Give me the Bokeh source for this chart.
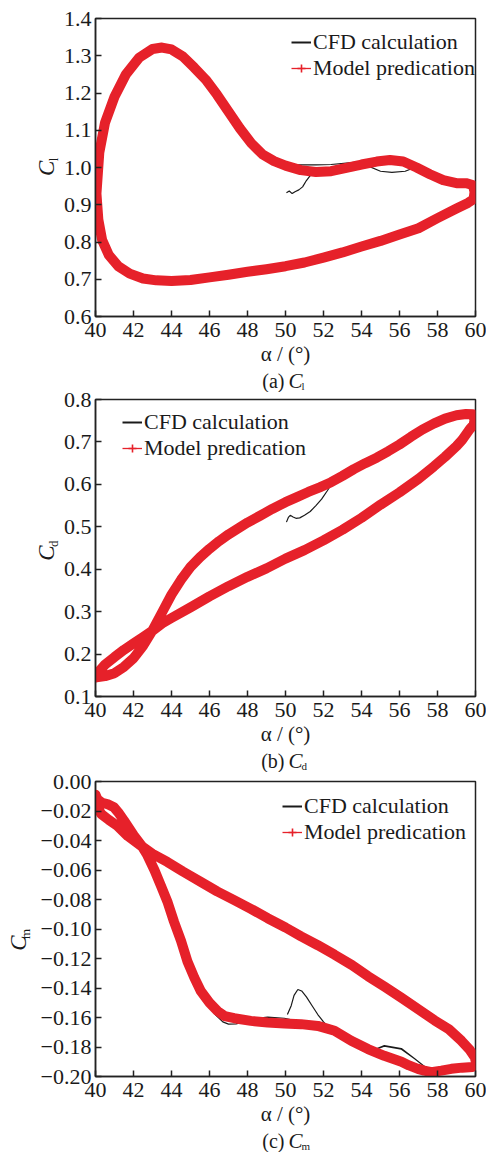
import math
from bokeh.plotting import figure
from bokeh.layouts import column, row
from bokeh.models import Label, Legend, LegendItem, ColumnDataSource, FixedTicker, Range1d
from bokeh.embed import file_html
from bokeh.resources import INLINE

# ---------------- data ----------------
alpha_ticks = [40, 42, 44, 46, 48, 50, 52, 54, 56, 58, 60]

cl_ticks = [0.6, 0.7, 0.8, 0.9, 1.0, 1.1, 1.2, 1.3, 1.4]
cl_tick_labels = ["0.6", "0.7", "0.8", "0.9", "1.0", "1.1", "1.2", "1.3", "1.4"]
cd_ticks = [0.1, 0.2, 0.3, 0.4, 0.5, 0.6, 0.7, 0.8]
cd_tick_labels = ["0.1", "0.2", "0.3", "0.4", "0.5", "0.6", "0.7", "0.8"]
cm_ticks = [-0.2, -0.18, -0.16, -0.14, -0.12, -0.1, -0.08, -0.06, -0.04, -0.02, 0.0]
cm_tick_labels = ["\u22120.20", "\u22120.18", "\u22120.16", "\u22120.14", "\u22120.12", "\u22120.10",
                  "\u22120.08", "\u22120.06", "\u22120.04", "\u22120.02", "0.00"]

# (a) lift coefficient, model prediction loop
cl_model_alpha = [40.05, 40.2, 40.5, 41.0, 41.6, 42.3, 43.0, 43.5, 44.0, 44.6, 45.2, 45.8, 46.4, 47.0,
                  47.6, 48.2, 48.8, 49.4, 50.0, 50.8, 51.6, 52.4, 53.2, 54.0, 54.8, 55.5, 56.2, 56.9,
                  57.6, 58.3, 59.0, 59.5, 59.85, 59.95, 59.9, 59.6, 59.0, 58.0, 57.0, 56.0, 55.0, 54.0,
                  53.0, 52.0, 51.0, 50.0, 49.0, 48.0, 47.0, 46.0, 45.0, 44.0, 43.2, 42.5, 41.8, 41.2,
                  40.7, 40.35, 40.15, 40.05]
cl_model = [0.93, 1.04, 1.12, 1.19, 1.25, 1.295, 1.318, 1.322, 1.317, 1.298, 1.268, 1.236, 1.195, 1.15,
            1.105, 1.065, 1.035, 1.017, 1.005, 0.993, 0.988, 0.99, 0.999, 1.008, 1.016, 1.02, 1.016, 1.0,
            0.982, 0.966, 0.958, 0.958, 0.953, 0.935, 0.915, 0.905, 0.89, 0.864, 0.837, 0.82, 0.803, 0.788,
            0.772, 0.758, 0.745, 0.735, 0.727, 0.72, 0.712, 0.705, 0.698, 0.695, 0.697, 0.702, 0.715, 0.735,
            0.765, 0.805, 0.86, 0.93]
# (a) CFD: start transient, first upper pass, lower branch, second upper pass
cl_cfd_start_alpha = [50.05, 50.2, 50.35, 50.5, 50.7, 50.9, 51.1, 51.3, 51.5]
cl_cfd_start = [0.932, 0.937, 0.93, 0.935, 0.94, 0.948, 0.965, 0.978, 0.985]
cl_cfd_up1_alpha = [52.0, 52.8, 53.6, 54.3, 55.0, 55.6, 56.3, 56.8, 57.5, 58.3, 59.0, 59.6, 59.95, 59.9]
cl_cfd_up1 = [0.99, 0.996, 1.003, 1.005, 0.99, 0.987, 0.99, 1.0, 0.985, 0.97, 0.962, 0.96, 0.94, 0.915]
cl_cfd_low_alpha = [59.6, 59.0, 58.0, 57.0, 56.0, 55.0, 54.0, 53.0, 52.0, 51.0, 50.0, 49.0, 48.0, 47.0,
                    46.0, 45.0, 44.0, 43.2, 42.5, 41.8, 41.2, 40.7, 40.35, 40.15, 40.05]
cl_cfd_low = [0.905, 0.89, 0.864, 0.837, 0.82, 0.803, 0.788, 0.772, 0.758, 0.745, 0.735, 0.727, 0.72, 0.712,
              0.705, 0.698, 0.695, 0.697, 0.702, 0.715, 0.735, 0.765, 0.805, 0.86, 0.93]
cl_cfd_up2_alpha = [40.2, 40.5, 41.0, 41.6, 42.3, 43.0, 43.5, 44.0, 44.6, 45.2, 45.8, 46.4, 47.0, 47.6,
                    48.2, 48.8, 49.4, 50.0, 50.8, 51.6, 52.4, 53.2, 54.0, 54.8, 55.5, 56.2, 56.9, 57.6,
                    58.3, 59.0, 59.5, 59.9, 59.9]
cl_cfd_up2 = [1.04, 1.12, 1.19, 1.25, 1.293, 1.316, 1.322, 1.325, 1.31, 1.282, 1.24, 1.19, 1.138, 1.09,
              1.055, 1.03, 1.015, 1.008, 1.007, 1.007, 1.008, 1.012, 1.016, 1.018, 1.017, 1.012, 1.0, 0.985,
              0.972, 0.965, 0.962, 0.94, 0.915]

# (b) drag coefficient
cd_model_alpha = [40.05, 40.5, 41.0, 41.5, 42.0, 42.5, 43.0, 43.5, 44.0, 44.5, 45.0, 45.5, 46.0, 46.5,
                  47.0, 47.5, 48.0, 48.66, 49.3, 50.0, 50.6, 51.2, 51.8, 52.4, 53.0, 53.6, 54.2, 54.8,
                  55.4, 56.0, 56.6, 57.2, 57.8, 58.4, 59.0, 59.5, 59.85, 59.95, 59.9, 59.7, 59.3, 59.0,
                  58.4, 57.8, 57.0, 56.0, 55.0, 54.0, 53.0, 52.0, 51.0, 50.0, 49.0, 48.0, 47.0, 46.0,
                  45.0, 44.0, 43.5, 43.0, 42.5, 42.0, 41.5, 41.0, 40.5, 40.2, 40.05]
cd_model = [0.145, 0.148, 0.155, 0.17, 0.19, 0.219, 0.256, 0.298, 0.34, 0.375, 0.405, 0.428, 0.448, 0.466,
            0.482, 0.496, 0.51, 0.526, 0.542, 0.558, 0.57, 0.582, 0.593, 0.605, 0.62, 0.636, 0.65, 0.663,
            0.678, 0.694, 0.712, 0.729, 0.743, 0.755, 0.763, 0.766, 0.765, 0.752, 0.74, 0.73, 0.705, 0.69,
            0.665, 0.642, 0.613, 0.581, 0.552, 0.521, 0.493, 0.468, 0.445, 0.425, 0.402, 0.382, 0.36, 0.336,
            0.31, 0.285, 0.272, 0.255, 0.24, 0.225, 0.21, 0.193, 0.175, 0.16, 0.145]
cd_cfd_start_alpha = [50.05, 50.15, 50.25, 50.4, 50.55, 50.75, 51.0, 51.3, 51.6, 51.9, 52.2, 52.45]
cd_cfd_start = [0.511, 0.522, 0.527, 0.523, 0.52, 0.521, 0.527, 0.536, 0.55, 0.565, 0.585, 0.603]
cd_cfd_up_alpha = [53.0, 53.6, 54.2, 54.8, 55.4, 56.0, 56.6, 57.2, 57.8, 58.4, 59.0, 59.5, 59.85, 59.95]
cd_cfd_up = [0.625, 0.643, 0.657, 0.67, 0.684, 0.698, 0.714, 0.73, 0.744, 0.756, 0.764, 0.766, 0.765, 0.752]
cd_cfd_low_alpha = [59.9, 59.7, 59.3, 59.0, 58.4, 57.8, 57.0, 56.0, 55.0, 54.0, 53.0, 52.0, 51.0, 50.0,
                    49.0, 48.0, 47.0, 46.0, 45.0, 44.0, 43.5, 43.0, 42.5, 42.0, 41.5, 41.0, 40.5, 40.2,
                    40.05]
cd_cfd_low = [0.74, 0.73, 0.705, 0.69, 0.665, 0.642, 0.613, 0.581, 0.552, 0.521, 0.493, 0.468, 0.445, 0.425,
              0.402, 0.382, 0.36, 0.336, 0.31, 0.285, 0.272, 0.255, 0.24, 0.225, 0.21, 0.193, 0.175, 0.16,
              0.145]
cd_cfd_up2_alpha = [40.5, 41.0, 41.5, 42.0, 42.5, 43.0, 43.5, 44.0, 44.5, 45.0, 45.5, 46.0, 46.5, 47.0,
                    47.5, 48.0, 48.66, 49.3, 50.0, 50.6, 51.2, 51.8, 52.4, 53.0, 53.6, 54.2, 54.8, 55.4,
                    56.0, 56.6, 57.2, 57.8, 58.4, 59.0, 59.5, 59.85, 59.95]
cd_cfd_up2 = [0.152, 0.16, 0.172, 0.19, 0.218, 0.257, 0.302, 0.345, 0.382, 0.413, 0.436, 0.456, 0.475,
              0.49, 0.502, 0.513, 0.527, 0.542, 0.558, 0.57, 0.582, 0.593, 0.605, 0.625, 0.643, 0.657, 0.67,
              0.684, 0.698, 0.714, 0.73, 0.744, 0.756, 0.764, 0.766, 0.765, 0.752]

# (c) pitching moment coefficient
cm_model_alpha = [40.0, 40.02, 40.3, 40.7, 41.14, 41.7, 42.37, 43.0, 43.78, 44.6, 45.54, 46.4, 47.3, 48.2,
                  49.06, 50.0, 50.82, 51.7, 52.58, 53.5, 54.34, 55.2, 56.1, 57.0, 57.85, 58.6, 59.26, 59.7,
                  59.96, 60.05, 59.85, 59.3, 58.73, 58.2, 57.68, 57.3, 56.97, 56.5, 56.1, 55.2, 54.34,
                  53.46, 52.58, 51.7, 50.82, 49.94, 49.06, 48.18, 47.3, 46.8, 46.42, 46.0, 45.54, 45.2,
                  44.84, 44.5, 44.13, 43.8, 43.43, 43.1, 42.73, 42.4, 42.02, 41.5, 41.2, 40.97, 40.62,
                  40.35, 40.1, 40.0]
cm_model = [-0.009, -0.016, -0.022, -0.026, -0.030, -0.037, -0.0433, -0.049, -0.0545, -0.061, -0.068,
            -0.0745, -0.0804, -0.0865, -0.0927, -0.099, -0.105, -0.111, -0.1174, -0.1245, -0.132, -0.139,
            -0.1466, -0.1545, -0.162, -0.168, -0.1758, -0.182, -0.187, -0.1915, -0.1935, -0.194, -0.1948,
            -0.196, -0.197, -0.196, -0.1948, -0.1925, -0.19, -0.186, -0.1814, -0.1758, -0.169, -0.1657,
            -0.1645, -0.164, -0.1634, -0.1623, -0.1605, -0.159, -0.1556, -0.15, -0.142, -0.133, -0.122,
            -0.108, -0.095, -0.082, -0.0703, -0.06, -0.05, -0.043, -0.0366, -0.0265, -0.021, -0.0175,
            -0.0153, -0.0145, -0.012, -0.009]
cm_cfd_start_alpha = [50.1, 50.3, 50.45, 50.65, 50.85, 51.1, 51.4, 51.7, 52.0, 52.3]
cm_cfd_start = [-0.158, -0.152, -0.145, -0.141, -0.142, -0.146, -0.152, -0.158, -0.163, -0.167]
cm_cfd_low1_alpha = [52.58, 53.46, 54.34, 55.2, 56.1, 56.8, 57.68, 58.2, 58.73, 59.3, 59.85, 60.0]
cm_cfd_low1 = [-0.171, -0.178, -0.1836, -0.179, -0.181, -0.188, -0.197, -0.196, -0.1948, -0.194, -0.1935,
               -0.1915]
cm_cfd_lin_alpha = [59.96, 59.7, 59.26, 58.6, 57.85, 57.0, 56.1, 55.2, 54.34, 53.5, 52.58, 51.7, 50.82,
                    50.0, 49.06, 48.2, 47.3, 46.4, 45.54, 44.6, 43.78, 43.0, 42.37, 41.7, 41.14, 40.7,
                    40.3, 40.05]
cm_cfd_lin = [-0.187, -0.182, -0.1758, -0.168, -0.162, -0.1545, -0.1466, -0.139, -0.132, -0.1245, -0.1174,
              -0.111, -0.105, -0.099, -0.0927, -0.0865, -0.0804, -0.0745, -0.068, -0.061, -0.0545, -0.049,
              -0.0433, -0.037, -0.030, -0.026, -0.022, -0.017]
cm_cfd_low2_alpha = [40.3, 40.62, 40.97, 41.5, 42.02, 42.4, 42.73, 43.1, 43.43, 43.8, 44.13, 44.5, 44.84,
                     45.2, 45.54, 46.0, 46.3, 46.7, 47.0, 47.4, 47.8, 48.5, 49.06, 49.94, 50.82, 51.7,
                     52.58, 53.46, 54.34, 55.2, 56.1, 56.8, 57.68, 58.73, 59.85, 60.0]
cm_cfd_low2 = [-0.0145, -0.0153, -0.0175, -0.0265, -0.0366, -0.042, -0.048, -0.057, -0.066, -0.077,
               -0.089, -0.102, -0.116, -0.128, -0.139, -0.152, -0.158, -0.163, -0.1645, -0.1643, -0.163,
               -0.1605, -0.1598, -0.1605, -0.163, -0.1665, -0.171, -0.178, -0.1836, -0.1795, -0.1815,
               -0.188, -0.197, -0.195, -0.1935, -0.1915]

# ---------------- styling helpers ----------------
RED = "#E6212A"
SERIF = "Liberation Serif"
TXT = "#1a1a1a"
TOTAL_W = 486
FRAME_L = 95      # page x of the frame's left edge
FRAME_R = 475     # page x of the frame's right edge
BOTTOM = 50       # room for tick labels and the alpha axis label
ROT_FIX = 18      # rotated labels render higher than their anchor


def blank_fig(w, h):
    f = figure(width=w, height=h, output_backend="svg", toolbar_location=None,
               x_range=Range1d(0, w), y_range=Range1d(0, h),
               x_axis_location=None, y_axis_location=None, min_border=0)
    f.grid.visible = False
    f.outline_line_color = None
    f.background_fill_color = "white"
    f.border_fill_color = "white"
    return f


def make_panel(top, frame_h, y_lo, y_hi, yticks, ylabels, m_alpha, m_val, c_alpha, c_val,
               sub, cap_letter, lab_w, c_x, c_rel_y, legend_rel, cap_h, cap_from_top):
    main_h = top + frame_h + BOTTOM
    main_w = TOTAL_W - lab_w
    p = figure(width=main_w, height=main_h, output_backend="svg", toolbar_location=None,
               x_range=Range1d(40, 60), y_range=Range1d(y_lo, y_hi),
               min_border_left=FRAME_L - lab_w, min_border_right=TOTAL_W - FRAME_R,
               min_border_top=top, min_border_bottom=BOTTOM)
    p.grid.visible = False
    p.outline_line_color = "#222222"
    p.outline_line_width = 1.5
    p.background_fill_color = "white"
    p.border_fill_color = "white"

    for ax in (p.xaxis[0], p.yaxis[0]):
        ax.axis_line_color = "#222222"
        ax.axis_line_width = 1.5
        ax.major_tick_line_color = "#222222"
        ax.major_tick_line_width = 1.5
        ax.major_tick_in = 6
        ax.major_tick_out = 0
        ax.minor_tick_line_color = None
        ax.major_label_text_font = SERIF
        ax.major_label_text_font_size = "22px"
        ax.major_label_text_color = TXT

    p.xaxis.ticker = FixedTicker(ticks=alpha_ticks)
    p.xaxis.major_label_standoff = 6
    p.xaxis.axis_label = "\u03b1 / (\u00b0)"
    p.xaxis.axis_label_text_font = SERIF
    p.xaxis.axis_label_text_font_style = "normal"
    p.xaxis.axis_label_text_font_size = "21px"
    p.xaxis.axis_label_text_color = TXT
    p.xaxis.axis_label_standoff = 2

    p.yaxis.ticker = FixedTicker(ticks=yticks)
    p.yaxis.major_label_overrides = {t: l for t, l in zip(yticks, ylabels)}
    p.yaxis.major_label_standoff = 4

    p.line(c_alpha, c_val, line_color="#1a1a1a", line_width=1.2)
    p.line(m_alpha, m_val, line_color=RED, line_width=10, line_join="round", line_cap="round")

    # legend glyph renderers (points far outside the visible range)
    off = ColumnDataSource(data=dict(x=[0, 1], y=[y_lo, y_lo]))
    off_pt = ColumnDataSource(data=dict(x=[0], y=[y_lo]))
    leg_line = p.line("x", "y", source=off, line_color=RED, line_width=1.3)
    leg_mark = p.scatter("x", "y", source=off_pt, marker="cross", size=7, line_color=RED, line_width=1.6)
    cfd_leg = p.line("x", "y", source=off, line_color="#1a1a1a", line_width=2)

    lx, ltop = legend_rel
    legend = Legend(items=[LegendItem(label="CFD calculation", renderers=[cfd_leg]),
                           LegendItem(label="Model predication", renderers=[leg_line, leg_mark])],
                    location=(lx, frame_h - ltop - 48), orientation="vertical",
                    label_text_font=SERIF, label_text_font_size="22px", label_text_color=TXT,
                    glyph_width=20, glyph_height=24, label_height=24, label_standoff=2,
                    spacing=0, padding=0, margin=0,
                    background_fill_alpha=0, border_line_color=None)
    p.add_layout(legend, "center")

    # y-axis title: italic C with a subscript, in its own narrow figure
    yl = blank_fig(lab_w, main_h)
    cy = main_h - c_rel_y - ROT_FIX
    yl.add_layout(Label(x=c_x, y=cy, text="C", angle=math.pi / 2, text_font=SERIF,
                        text_font_style="italic", text_font_size="23px", text_color=TXT,
                        text_align="center", text_baseline="middle"))
    yl.add_layout(Label(x=c_x + 7, y=cy + 11, text=sub, angle=math.pi / 2, text_font=SERIF,
                        text_font_size="13px", text_color=TXT,
                        text_align="center", text_baseline="middle"))

    # caption below the panel
    cap = blank_fig(TOTAL_W, cap_h)
    yc = cap_h - cap_from_top
    cap.add_layout(Label(x=284, y=yc, text="(" + cap_letter + ")", text_font=SERIF,
                         text_font_size="20px", text_color=TXT,
                         text_align="right", text_baseline="middle"))
    cap.add_layout(Label(x=288, y=yc, text="C", text_font=SERIF, text_font_style="italic",
                         text_font_size="21px", text_color=TXT,
                         text_align="left", text_baseline="middle"))
    cap.add_layout(Label(x=301, y=yc - 5, text=sub, text_font=SERIF, text_font_size="11px",
                         text_color=TXT, text_align="left", text_baseline="middle"))

    return column(row(yl, p, spacing=0), cap, spacing=0)


panel_a = make_panel(18, 300, 0.6, 1.4, cl_ticks, cl_tick_labels, cl_model_alpha, cl_model,
                     cl_cfd_start_alpha + cl_cfd_up1_alpha + cl_cfd_low_alpha + cl_cfd_up2_alpha,
                     cl_cfd_start + cl_cfd_up1 + cl_cfd_low + cl_cfd_up2,
                     "l", "a", 60, 46, 167, (196, 17), 24, 12)
panel_b = make_panel(7, 299, 0.1, 0.8, cd_ticks, cd_tick_labels, cd_model_alpha, cd_model,
                     cd_cfd_start_alpha + cd_cfd_up_alpha + cd_cfd_low_alpha + cd_cfd_up2_alpha,
                     cd_cfd_start + cd_cfd_up + cd_cfd_low + cd_cfd_up2,
                     "d", "b", 60, 46, 166, (27, 16), 24, 12)
panel_c = make_panel(9, 297, -0.2, 0.0, cm_ticks, cm_tick_labels, cm_model_alpha, cm_model,
                     cm_cfd_start_alpha + cm_cfd_low1_alpha + cm_cfd_lin_alpha + cm_cfd_low2_alpha,
                     cm_cfd_start + cm_cfd_low1 + cm_cfd_lin + cm_cfd_low2,
                     "m", "c", 36, 18, 177, (187, 18), 24, 12)

layout = column(panel_a, panel_b, panel_c, spacing=0)
open("out.html", "w").write(file_html(layout, INLINE))
